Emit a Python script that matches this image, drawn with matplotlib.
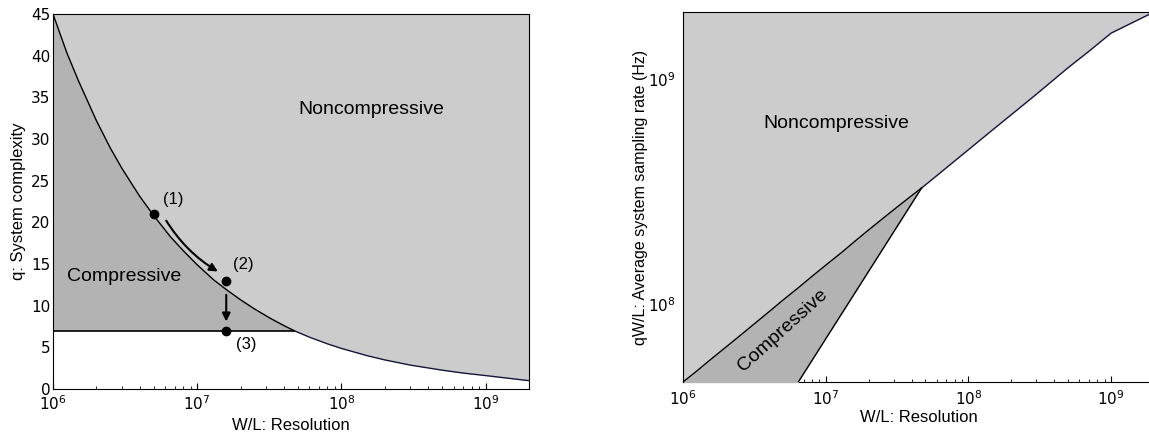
import numpy as np
import matplotlib.pyplot as plt

# W/L resolution and q system complexity along the boundary curve
wl = np.array([1e6, 1.25e6, 1.5e6, 2e6, 2.5e6, 3e6, 4e6, 5e6, 6.5e6, 8e6,
               1e7, 1.3e7, 1.6e7, 2e7, 2.5e7, 3.2e7, 4e7, 4.7e7, 6e7, 8e7,
               1e8, 1.5e8, 2e8, 3e8, 5e8, 7e8, 1e9, 2e9])
q = np.array([45.0, 40.3, 37.0, 32.2, 28.9, 26.5, 23.1, 20.8, 18.3, 16.6,
              14.9, 13.1, 11.9, 10.7, 9.6, 8.5, 7.6, 7.0, 6.22, 5.42,
              4.87, 4.01, 3.49, 2.87, 2.26, 1.91, 1.61, 1.0])
q_min = 7

# marked points (1), (2), (3)
pt_wl = [5.05e6, 1.59e7, 1.59e7]
pt_q = [21, 13, 7]
pt_labels = ['(1)', '(2)', '(3)']

light = '#cccccc'
dark = '#b3b3b3'
navy = '#16163a'
lab_font = 'Liberation Sans'

fig = plt.figure(figsize=(11.49, 4.32), dpi=100)

# ---------- left: q vs W/L ----------
ax1 = fig.add_axes([53/1149, 43/432, 476/1149, 375/432])
comp = q >= q_min
tail = q <= q_min
ax1.fill_between(wl, q, 45, color=light, lw=0, zorder=1)
ax1.fill_between(wl, q_min, q, where=comp, color=dark, lw=0, zorder=1)
ax1.plot(wl[comp], q[comp], color='k', lw=1, zorder=3)
ax1.plot(wl[tail], q[tail], color=navy, lw=1, zorder=3)
ax1.plot(wl[comp], np.full(comp.sum(), q_min), color='k', lw=1.2, zorder=3)
ax1.plot(pt_wl, pt_q, 'o', color='k', ms=6, zorder=5)
ax1.text(6.84e6, 22.7, pt_labels[0], fontsize=12, family=lab_font, ha='center', va='center')
ax1.text(2.1e7, 14.9, pt_labels[1], fontsize=12, family=lab_font, ha='center', va='center')
ax1.text(2.2e7, 5.3, pt_labels[2], fontsize=12, family=lab_font, ha='center', va='center')
ax1.annotate('', xy=(1.39e7, 14.1), xytext=(6.1e6, 20.2),
             arrowprops=dict(arrowstyle='-|>', color='k', lw=1.5, mutation_scale=12,
                             connectionstyle='arc3,rad=0.12', shrinkA=0, shrinkB=0))
ax1.annotate('', xy=(1.59e7, 8.1), xytext=(1.59e7, 11.3),
             arrowprops=dict(arrowstyle='-|>', color='k', lw=1.5, mutation_scale=12,
                             shrinkA=0, shrinkB=0))
ax1.text(1.6e8, 33.5, 'Noncompressive', fontsize=14, family=lab_font, ha='center', va='center')
ax1.text(3.1e6, 13.5, 'Compressive', fontsize=14, family=lab_font, ha='center', va='center')
ax1.set_xscale('log')
ax1.set_xlim(1e6, 2e9)
ax1.set_ylim(0, 45)
ax1.set_yticks(range(0, 46, 5))
ax1.tick_params(axis='y', length=0, pad=2, labelsize=11)
ax1.tick_params(axis='x', which='both', direction='in', top=False, labelsize=11, pad=4)
ax1.tick_params(axis='x', which='major', length=4)
ax1.tick_params(axis='x', which='minor', length=2)
ax1.set_xlabel('W/L: Resolution', fontsize=12, family=lab_font)
ax1.set_ylabel('q: System complexity', fontsize=12, family=lab_font)
ax1.xaxis.set_label_coords(0.5, -0.077)
ax1.yaxis.set_label_coords(-0.057, 0.5)

# ---------- right: qW/L vs W/L ----------
rate = q * wl
y_lo, y_hi = 4.5e7, 2e9
ax2 = fig.add_axes([683/1149, 50/432, 471/1149, 370/432])
ax2.fill_between(wl, rate, y_hi, color=light, lw=0, zorder=3)
ax2.fill_between(wl, q_min * wl, rate, where=comp, color=dark, lw=0, zorder=3)
ax2.plot(wl[comp], rate[comp], color='k', lw=1, zorder=4)
ax2.plot(wl[tail], rate[tail], color=navy, lw=1, zorder=4)
ax2.plot(wl[comp], q_min * wl[comp], color='k', lw=1, zorder=4)
ax2.text(1.19e7, 6.4e8, 'Noncompressive', fontsize=14, family=lab_font, ha='center', va='center', zorder=6)
ax2.text(5.0e6, 7.66e7, 'Compressive', fontsize=14, family=lab_font, ha='center', va='center',
         rotation=42, zorder=6)
ax2.set_xscale('log')
ax2.set_yscale('log')
ax2.set_xlim(1e6, 2e9)
ax2.set_ylim(y_lo, y_hi)
for side in ['left', 'top', 'right']:
    ax2.spines[side].set_zorder(5)
ax2.tick_params(axis='y', which='both', length=0, pad=5, labelsize=11)
ax2.tick_params(axis='x', which='both', direction='in', top=False, labelsize=11, pad=5)
ax2.tick_params(axis='x', which='major', length=4)
ax2.tick_params(axis='x', which='minor', length=2)
ax2.set_xlabel('W/L: Resolution', fontsize=12, family=lab_font)
ax2.set_ylabel('qW/L: Average system sampling rate (Hz)', fontsize=11.5, family=lab_font)
ax2.xaxis.set_label_coords(0.5, -0.076)
ax2.yaxis.set_label_coords(-0.074, 0.5)

fig.savefig('out.png', dpi=100)
